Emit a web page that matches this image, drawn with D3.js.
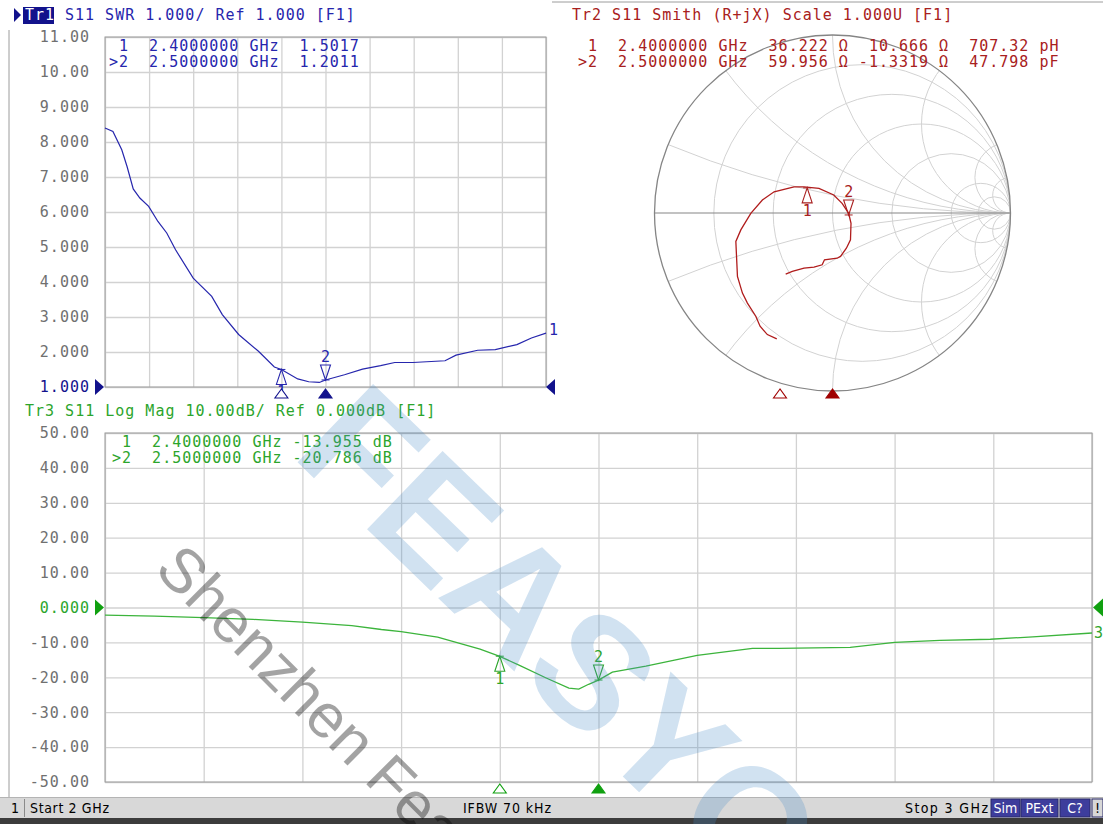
<!DOCTYPE html>
<html>
<head>
<meta charset="utf-8">
<script src="https://cdnjs.cloudflare.com/ajax/libs/d3/7.8.5/d3.min.js"></script>
<style>
    body { margin: 0; background: #fff; }
    svg text { font-family: "DejaVu Sans Mono", monospace; font-size: 15px; letter-spacing: 1px; }
    .status text { font-family: "Liberation Sans Narrow", "DejaVu Sans Condensed", sans-serif; font-size: 14px; letter-spacing: 0; }
</style>
</head>
<body>
<svg id="chart" width="1103" height="824"></svg>
<script>
// Trace 1: SWR
var swrFreq = [2.000, 2.018, 2.038, 2.050, 2.064, 2.079, 2.099, 2.120, 2.140, 2.160, 2.200, 2.242, 2.266,
    2.303, 2.348, 2.384, 2.400, 2.437, 2.462, 2.486, 2.500, 2.543, 2.584, 2.625, 2.657, 2.698, 2.771,
    2.796, 2.845, 2.885, 2.934, 2.967, 3.000];
var swrVals = [8.40, 8.30, 7.78, 7.30, 6.66, 6.40, 6.16, 5.73, 5.40, 4.92, 4.11, 3.59, 3.07,
    2.50, 2.02, 1.57, 1.50, 1.23, 1.15, 1.13, 1.20, 1.35, 1.51, 1.61, 1.70, 1.70, 1.75,
    1.91, 2.05, 2.07, 2.21, 2.40, 2.54];
var swrTicks = [11, 10, 9, 8, 7, 6, 5, 4, 3, 2, 1];
var swrTickLabels = ["11.00", "10.00", "9.000", "8.000", "7.000", "6.000", "5.000", "4.000", "3.000", "2.000", "1.000"];

// Trace 3: log magnitude (dB)
var lmFreq = [2.000, 2.050, 2.100, 2.150, 2.200, 2.250, 2.280, 2.300, 2.337, 2.380, 2.400, 2.420, 2.447,
    2.470, 2.480, 2.490, 2.500, 2.514, 2.548, 2.600, 2.656, 2.683, 2.755, 2.800, 2.846, 2.897, 2.940, 3.000];
var lmVals = [-2.2, -2.5, -2.9, -3.4, -4.2, -5.2, -6.3, -6.9, -8.5, -11.9, -14.0, -16.6, -20.2,
    -23.1, -23.4, -22.0, -20.8, -18.5, -16.8, -13.7, -11.7, -11.7, -11.4, -10.0, -9.4, -9.1, -8.4, -7.3];
var lmTicks = [50, 40, 30, 20, 10, 0, -10, -20, -30, -40, -50];
var lmTickLabels = ["50.00", "40.00", "30.00", "20.00", "10.00", "0.000", "-10.00", "-20.00", "-30.00", "-40.00", "-50.00"];

// Trace 2: Smith chart, reflection coefficient (start 2 GHz -> stop 3 GHz)
var smithRe = [-0.313, -0.366, -0.407, -0.431, -0.478, -0.506, -0.534, -0.543, -0.515, -0.459, -0.394, -0.328,
    -0.216, -0.160, -0.076, 0.007, 0.054, 0.091, 0.104, 0.101, 0.078, 0.045, 0.026, -0.045, -0.058, -0.104,
    -0.160, -0.226, -0.263];
var smithIm = [-0.707, -0.683, -0.636, -0.580, -0.506, -0.450, -0.356, -0.160, -0.095, -0.002, 0.073, 0.119,
    0.147, 0.147, 0.138, 0.101, 0.054, -0.002, -0.058, -0.151, -0.198, -0.244, -0.254, -0.263, -0.291, -0.304,
    -0.310, -0.328, -0.343];
var smithR = [0.2, 0.5, 1, 2, 5, 10];
var smithX = [0.2, 0.5, 1, 2, 5, 10, -0.2, -0.5, -1, -2, -5, -10];

// Markers
var markerFreq = [2.4, 2.5];
var markerSwr = [1.5017, 1.2011];
var markerDb = [-13.955, -20.786];
var markerRes = [36.222, 59.956];
var markerReact = [10.666, -1.3319];
var markerEquiv = ["707.32 pH", "47.798 pF"];
var xGrid = [2.0, 2.1, 2.2, 2.3, 2.4, 2.5, 2.6, 2.7, 2.8, 2.9, 3.0];

var blue = "#2626ad", navy = "#12128c", red = "#a82020", green = "#2ca52c";
var gridCol = "#d2d2d2", frameCol = "#9c9c9c", tickCol = "#707070";

var svg = d3.select("#chart");
svg.append("rect").attr("width", 1103).attr("height", 824).attr("fill", "#fff");

function pad(s, n) {
    s = String(s);
    while (s.length < n) { s = " " + s; }
    return s;
}

function markerLead(i) {
    return (i === 1 ? ">" : " ") + (i + 1) + "  " + markerFreq[i].toFixed(7) + " GHz";
}

function triPath(x, y, s, w, h) {
    // apex at (x,y), s = 1 opens downwards, -1 opens upwards
    return "M" + x + "," + y + "L" + (x - w / 2) + "," + (y + s * h) + "L" + (x + w / 2) + "," + (y + s * h) + "Z";
}

function drawMarker(g, px, py, num, below, col) {
    var s = below ? 1 : -1;
    g.append("path")
        .attr("d", triPath(px, py, s, 10, 15))
        .attr("fill", "none")
        .attr("stroke", col)
        .attr("stroke-width", 1.1);
    g.append("line")
        .attr("x1", px - 4).attr("x2", px + 4)
        .attr("y1", py).attr("y2", py)
        .attr("stroke", col);
    g.append("text")
        .attr("x", px + 0.5)
        .attr("y", below ? py + 28 : py - 18)
        .attr("text-anchor", "middle")
        .attr("fill", col)
        .text(num);
}

function drawStimulus(g, px, py, filled, col) {
    g.append("path")
        .attr("d", triPath(px, py, 1, 13, 9))
        .attr("fill", filled ? col : "#fff")
        .attr("stroke", col)
        .attr("stroke-width", 1.1);
}

function drawGrid(g, x, y, yTicks, left, right, top, bottom) {
    g.append("g")
        .attr("transform", "translate(0," + bottom + ")")
        .call(d3.axisBottom(x).tickValues(xGrid).tickSize(-(bottom - top)).tickFormat(""))
        .call(function (a) { a.select(".domain").remove(); });
    g.append("g")
        .attr("transform", "translate(" + left + ",0)")
        .call(d3.axisLeft(y).tickValues(yTicks).tickSize(-(right - left)).tickFormat(""))
        .call(function (a) { a.select(".domain").remove(); });
    g.selectAll(".tick line").attr("stroke", gridCol).attr("stroke-width", 1.3);
    g.append("rect")
        .attr("x", left).attr("y", top)
        .attr("width", right - left).attr("height", bottom - top)
        .attr("fill", "none").attr("stroke", frameCol);
}

function drawTickLabels(g, y, ticks, labels, refIndex, refCol) {
    var ax = g.append("g")
        .attr("transform", "translate(90,0)")
        .call(d3.axisLeft(y).tickValues(ticks).tickSize(0).tickPadding(0)
            .tickFormat(function (d, i) { return labels[i]; }));
    ax.select(".domain").remove();
    ax.selectAll("text")
        .attr("font-family", "DejaVu Sans Mono")
        .attr("font-size", 15)
        .attr("fill", function (d, i) { return i === refIndex ? refCol : tickCol; });
}

// panel frame lines
svg.append("line").attr("x1", 9).attr("x2", 9).attr("y1", 30).attr("y2", 797).attr("stroke", frameCol);
svg.append("line").attr("x1", 552).attr("x2", 1103).attr("y1", 2).attr("y2", 2).attr("stroke", frameCol);

/* ---------- Trace 1 : SWR ---------- */
var g1 = svg.append("g");
var x1 = d3.scaleLinear().domain([2, 3]).range([105, 546]);
var y1 = d3.scaleLinear().domain([1, 11]).range([387, 37]);
drawGrid(g1, x1, y1, swrTicks, 105, 546, 37, 387);
drawTickLabels(g1, y1, swrTicks, swrTickLabels, 10, navy);

g1.append("path")
    .attr("d", "M14,8L21,15L14,22Z")
    .attr("fill", navy);
g1.append("rect").attr("x", 23).attr("y", 7).attr("width", 31).attr("height", 17).attr("fill", navy);
g1.append("text").attr("x", 25).attr("y", 20).attr("fill", "#fff").text("Tr1");
g1.append("text").attr("x", 65).attr("y", 20).attr("fill", blue).text("S11 SWR 1.000/ Ref 1.000 [F1]");

markerFreq.forEach(function (f, i) {
    g1.append("text")
        .attr("x", 109).attr("y", 51 + i * 15.5)
        .attr("fill", blue)
        .attr("xml:space", "preserve")
        .text(markerLead(i) + "  " + markerSwr[i].toFixed(4));
});

g1.append("path")
    .datum(d3.range(swrFreq.length))
    .attr("fill", "none")
    .attr("stroke", blue)
    .attr("stroke-width", 1.2)
    .attr("d", d3.line().x(function (i) { return x1(swrFreq[i]); }).y(function (i) { return y1(swrVals[i]); }));

g1.append("path").attr("d", "M95,379L104," + y1(1) + "L95,395Z").attr("fill", navy);
g1.append("path").attr("d", "M546," + y1(1) + "L555,379L555,395Z").attr("fill", navy);
g1.append("text").attr("x", 549).attr("y", y1(swrVals[swrVals.length - 1]) + 2).attr("fill", blue).text("1");

drawMarker(g1, x1(markerFreq[0]), y1(markerSwr[0]), "1", true, blue);
drawMarker(g1, x1(markerFreq[1]), y1(markerSwr[1]), "2", false, blue);
drawStimulus(g1, x1(markerFreq[0]), 389, false, navy);
drawStimulus(g1, x1(markerFreq[1]), 389, true, navy);

/* ---------- Trace 2 : Smith ---------- */
var g2 = svg.append("g");
var cx = 832.5, cy = 213, R = 178;
var sx = d3.scaleLinear().domain([-1, 1]).range([cx - R, cx + R]);
var sy = d3.scaleLinear().domain([-1, 1]).range([cy + R, cy - R]);
var fs = d3.scaleLinear().domain([2, 3]).range([570, 1095]);

svg.append("defs").append("clipPath").attr("id", "smithClip")
    .append("circle").attr("cx", cx).attr("cy", cy).attr("r", R);

var grid2 = g2.append("g").attr("clip-path", "url(#smithClip)");
smithR.forEach(function (r) {
    grid2.append("circle")
        .attr("cx", sx(r / (r + 1))).attr("cy", cy)
        .attr("r", R / (r + 1))
        .attr("fill", "none").attr("stroke", gridCol);
});
smithX.forEach(function (x) {
    grid2.append("circle")
        .attr("cx", sx(1)).attr("cy", sy(1 / x))
        .attr("r", R / Math.abs(x))
        .attr("fill", "none").attr("stroke", gridCol);
});
g2.append("circle").attr("cx", cx).attr("cy", cy).attr("r", R)
    .attr("fill", "none").attr("stroke", "#858585").attr("stroke-width", 1.3);
g2.append("line").attr("x1", sx(-1)).attr("x2", sx(1)).attr("y1", cy).attr("y2", cy)
    .attr("stroke", "#858585").attr("stroke-width", 1.2);

g2.append("text").attr("x", 572).attr("y", 20).attr("fill", red)
    .text("Tr2 S11 Smith (R+jX) Scale 1.000U [F1]");
markerFreq.forEach(function (f, i) {
    g2.append("text")
        .attr("x", 578).attr("y", 51 + i * 15.5)
        .attr("fill", red)
        .attr("xml:space", "preserve")
        .text(markerLead(i) + "  " + pad(markerRes[i].toFixed(3), 6) + " \u03a9 " +
            pad(d3.format(".5")(markerReact[i]).replace("\u2212", "-"), 7) + " \u03a9  " + markerEquiv[i]);
});

g2.append("path")
    .datum(d3.range(smithRe.length))
    .attr("fill", "none")
    .attr("stroke", "#b01c1c")
    .attr("stroke-width", 1.3)
    .attr("d", d3.line().x(function (i) { return sx(smithRe[i]); }).y(function (i) { return sy(smithIm[i]); }));

markerFreq.forEach(function (f, i) {
    var zr = markerRes[i] / 50, zi = markerReact[i] / 50;
    var den = (zr + 1) * (zr + 1) + zi * zi;
    var gr = ((zr - 1) * (zr + 1) + zi * zi) / den;
    var gi = (zi * (zr + 1) - (zr - 1) * zi) / den;
    drawMarker(g2, sx(gr), sy(gi), String(i + 1), i === 0, red);
});
drawStimulus(g2, fs(markerFreq[0]), 389, false, "#a00000");
drawStimulus(g2, fs(markerFreq[1]), 389, true, "#a00000");

/* ---------- Trace 3 : Log Mag ---------- */
var g3 = svg.append("g");
var x3 = d3.scaleLinear().domain([2, 3]).range([105, 1092]);
var y3 = d3.scaleLinear().domain([-50, 50]).range([782, 433]);
drawGrid(g3, x3, y3, lmTicks, 105, 1092, 433, 782);
drawTickLabels(g3, y3, lmTicks, lmTickLabels, 5, green);

g3.append("text").attr("x", 25).attr("y", 416).attr("fill", green)
    .text("Tr3 S11 Log Mag 10.00dB/ Ref 0.000dB [F1]");
markerFreq.forEach(function (f, i) {
    g3.append("text")
        .attr("x", 112).attr("y", 447 + i * 15.5)
        .attr("fill", green)
        .attr("xml:space", "preserve")
        .text(markerLead(i) + " " + markerDb[i].toFixed(3) + " dB");
});

g3.append("path")
    .datum(d3.range(lmFreq.length))
    .attr("fill", "none")
    .attr("stroke", "#3cb43c")
    .attr("stroke-width", 1.3)
    .attr("d", d3.line().x(function (i) { return x3(lmFreq[i]); }).y(function (i) { return y3(lmVals[i]); }));

g3.append("path").attr("d", "M95," + (y3(0) - 8) + "L104," + y3(0) + "L95," + (y3(0) + 8) + "Z").attr("fill", "#10a010");
g3.append("path").attr("d", "M1093," + y3(0) + "L1103," + (y3(0) - 9) + "L1103," + (y3(0) + 9) + "Z").attr("fill", "#10a010");
g3.append("text").attr("x", 1094).attr("y", y3(lmVals[lmVals.length - 1]) + 5).attr("fill", green).text("3");

drawMarker(g3, x3(markerFreq[0]), y3(markerDb[0]), "1", true, green);
drawMarker(g3, x3(markerFreq[1]), y3(markerDb[1]), "2", false, green);
drawStimulus(g3, x3(markerFreq[0]), 784, false, "#10a010");
drawStimulus(g3, x3(markerFreq[1]), 784, true, "#10a010");

/* ---------- status bar ---------- */
var st = svg.append("g").attr("class", "status");
st.append("rect").attr("x", 0).attr("y", 797).attr("width", 1103).attr("height", 21).attr("fill", "#d8d8d8");
st.append("line").attr("x1", 0).attr("x2", 1103).attr("y1", 797.5).attr("y2", 797.5).attr("stroke", "#b4b4b4");
st.append("rect").attr("x", 0).attr("y", 818).attr("width", 1103).attr("height", 6).attr("fill", "#3c3c3c");
st.append("line").attr("x1", 24.5).attr("x2", 24.5).attr("y1", 799).attr("y2", 817).attr("stroke", "#8a8a8a");
st.append("text").attr("x", 11).attr("y", 813).text("1");
st.append("text").attr("x", 30).attr("y", 813).attr("textLength", 79).text("Start 2 GHz");
st.append("text").attr("x", 463).attr("y", 813).attr("textLength", 88).text("IFBW 70 kHz");
st.append("text").attr("x", 905).attr("y", 813).attr("textLength", 83).text("Stop 3 GHz");
var boxes = [["Sim", 991, 29], ["PExt", 1021, 37], ["C?", 1060, 30], ["!", 1092, 11]];
boxes.forEach(function (b) {
    st.append("rect").attr("x", b[1]).attr("y", 799).attr("width", b[2]).attr("height", 18)
        .attr("fill", b[0] === "!" ? "#d8d8d8" : "#3d3d9c").attr("stroke", "#2a2a6a");
    st.append("text").attr("x", b[1] + b[2] / 2).attr("y", 813).attr("text-anchor", "middle")
        .attr("fill", b[0] === "!" ? "#000" : "#fff").text(b[0]);
});

/* ---------- watermarks ---------- */
var wm = svg.append("g");
wm.append("text")
    .attr("transform", "translate(290,455) rotate(44)")
    .style("font-family", "Liberation Sans, Arial, sans-serif")
    .style("font-weight", "bold")
    .style("font-size", "158px")
    .style("letter-spacing", "0px")
    .attr("fill", "rgb(70,140,200)")
    .attr("fill-opacity", 0.25)
    .text("FEASYCOM");
wm.append("text")
    .attr("transform", "translate(153,571) rotate(45)")
    .style("font-family", "Liberation Sans, Arial, sans-serif")
    .style("font-size", "62px")
    .style("letter-spacing", "0px")
    .attr("fill", "#000")
    .attr("fill-opacity", 0.36)
    .text("Shenzhen Feasycom");
</script>
</body>
</html>
